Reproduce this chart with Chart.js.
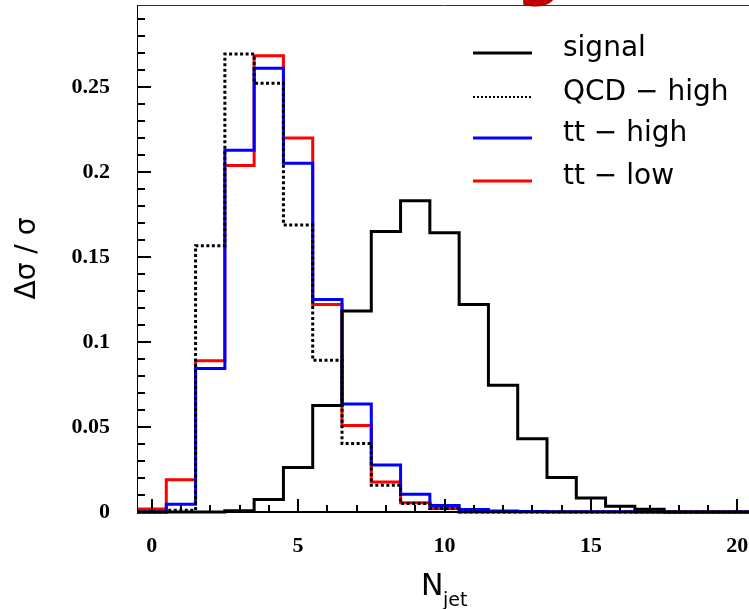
<!DOCTYPE html>
<html>
<head>
<meta charset="utf-8">
<script src="https://cdn.jsdelivr.net/npm/chart.js@4/dist/chart.umd.min.js"></script>
<style>
  html, body { margin: 0; padding: 0; background: #fff; overflow: hidden; }
  canvas { display: block; }
</style>
</head>
<body>
<canvas id="njetChart" width="752" height="609"></canvas>
<script>
// Njet distributions, one value per bin (bins centred on 0..20)
const binCenters = [0, 1, 2, 3, 4, 5, 6, 7, 8, 9, 10, 11, 12, 13, 14, 15, 16, 17, 18, 19, 20];
const signal  = [0, 0, 0, 0.0008, 0.0073, 0.0262, 0.0627, 0.1184, 0.1651, 0.1832, 0.1644, 0.1222, 0.0746, 0.0432, 0.0203, 0.0082, 0.0034, 0.0016, 0, 0, 0];
const qcdHigh = [0, 0.001, 0.1567, 0.2696, 0.2525, 0.169, 0.0894, 0.0403, 0.0157, 0.005, 0.002, 0, 0, 0, 0, 0, 0, 0, 0, 0, 0];
const ttHigh  = [0, 0.0045, 0.0845, 0.213, 0.2612, 0.2054, 0.1251, 0.0636, 0.0277, 0.0104, 0.0039, 0.0015, 0.0006, 0.0003, 0.0002, 0.0001, 0.0001, 0, 0, 0, 0];
const ttLow   = [0.0018, 0.019, 0.089, 0.204, 0.2686, 0.2202, 0.1222, 0.051, 0.0177, 0.0055, 0.002, 0, 0, 0, 0, 0, 0, 0, 0, 0, 0];

const seriesLabels = ['signal', 'QCD \u2212 high', 'tt \u2212 high', 'tt \u2212 low'];
const xTickValues = [0, 5, 10, 15, 20];
const xTickLabels = ['0', '5', '10', '15', '20'];
const yTickValues = [0, 0.05, 0.1, 0.15, 0.2, 0.25];
const yTickLabels = ['0', '0.05', '0.1', '0.15', '0.2', '0.25'];

// turn bin contents into step points (left edge of every bin + last right edge)
function toSteps(values) {
  const pts = binCenters.map((c, i) => ({ x: c - 0.5, y: values[i] }));
  pts.push({ x: binCenters[binCenters.length - 1] + 0.5, y: values[values.length - 1] });
  return pts;
}

// no extra room for overhanging labels, the frame is placed by hand
function noOverhang(s) {
  s.paddingLeft = 0;
  s.paddingRight = 0;
  s.paddingTop = 0;
  s.paddingBottom = 0;
}

const tickFont = { family: 'Liberation Serif', size: 22, weight: 'bold' };

// axis frame, inward ticks, legend and x title (ROOT style)
const rootStyle = {
  id: 'rootStyle',
  afterDraw(chart) {
    const ctx = chart.ctx;
    const area = chart.chartArea;
    const xs = chart.scales.x;
    const ys = chart.scales.y;
    ctx.save();

    // cropped title remnant at the top
    ctx.fillStyle = '#c00000';
    ctx.font = 'bold 64px "DejaVu Sans"';
    ctx.textAlign = 'center';
    ctx.textBaseline = 'alphabetic';
    ctx.fillText('g', 539, -7);

    // frame
    ctx.strokeStyle = '#333';
    ctx.lineWidth = 1;
    ctx.beginPath();
    ctx.moveTo(area.left, area.top + 0.5);
    ctx.lineTo(area.right, area.top + 0.5);
    ctx.stroke();

    ctx.strokeStyle = '#000';
    ctx.beginPath();
    ctx.moveTo(area.left + 0.5, area.top);
    ctx.lineTo(area.left + 0.5, area.bottom);
    ctx.stroke();

    ctx.lineWidth = 2;
    ctx.beginPath();
    ctx.moveTo(area.left, area.bottom);
    ctx.lineTo(area.right, area.bottom);
    ctx.stroke();

    // y ticks, minor every 0.01
    for (let k = 0; k <= 29; k++) {
      const py = Math.round(ys.getPixelForValue(k / 100));
      const len = k % 5 === 0 ? 14 : 8;
      ctx.beginPath();
      ctx.moveTo(area.left, py);
      ctx.lineTo(area.left + len, py);
      ctx.stroke();
    }
    // x ticks, minor every 1
    for (let k = 0; k <= 20; k++) {
      const px = Math.round(xs.getPixelForValue(k));
      const len = k % 5 === 0 ? 13 : 7;
      ctx.beginPath();
      ctx.moveTo(px, area.bottom);
      ctx.lineTo(px, area.bottom - len);
      ctx.stroke();
    }

    // x title  N_jet
    ctx.fillStyle = '#000';
    ctx.textAlign = 'left';
    ctx.textBaseline = 'alphabetic';
    ctx.font = '30px "DejaVu Sans"';
    ctx.fillText('N', 421, 595);
    ctx.font = '19px "DejaVu Sans"';
    ctx.fillText('jet', 443, 606);

    // legend
    const rows = [53, 97, 138, 181];
    ctx.font = '28px "DejaVu Sans"';
    chart.data.datasets.forEach((ds, i) => {
      const y = rows[i];
      ctx.strokeStyle = ds.borderColor;
      ctx.lineWidth = i === 1 ? 2 : 3;
      ctx.setLineDash(i === 1 ? [2, 2] : []);
      ctx.beginPath();
      ctx.moveTo(473, y);
      ctx.lineTo(532, y);
      ctx.stroke();
      ctx.setLineDash([]);
      ctx.fillStyle = '#000';
      ctx.fillText(ds.label, 563, y + 3);
    });

    ctx.restore();
  }
};

const commonDs = { stepped: true, pointRadius: 0, borderWidth: 3, fill: false, clip: false, tension: 0 };

new Chart(document.getElementById('njetChart'), {
  type: 'line',
  data: {
    datasets: [
      { ...commonDs, label: seriesLabels[0], data: toSteps(signal),  borderColor: '#000000' },
      { ...commonDs, label: seriesLabels[1], data: toSteps(qcdHigh), borderColor: '#000000', borderDash: [3, 2.5] },
      { ...commonDs, label: seriesLabels[2], data: toSteps(ttHigh),  borderColor: '#0000ff' },
      { ...commonDs, label: seriesLabels[3], data: toSteps(ttLow),   borderColor: '#ff0000' }
    ]
  },
  options: {
    responsive: false,
    animation: false,
    events: [],
    layout: { padding: { top: 5, left: 0, right: 0, bottom: 0 } },
    plugins: {
      legend: { display: false },
      tooltip: { enabled: false }
    },
    scales: {
      x: {
        type: 'linear',
        min: -0.5,
        max: 20.5,
        grid: { display: false, drawTicks: false },
        border: { display: false },
        afterBuildTicks: s => { s.ticks = xTickValues.map(v => ({ value: v })); },
        afterFit: s => { s.height = 97; noOverhang(s); },
        ticks: {
          font: tickFont,
          color: '#000',
          padding: 21,
          maxRotation: 0,
          autoSkip: false,
          callback: (v, i) => xTickLabels[i]
        }
      },
      y: {
        type: 'linear',
        min: 0,
        max: 0.2985,
        grid: { display: false, drawTicks: false },
        border: { display: false },
        afterBuildTicks: s => { s.ticks = yTickValues.map(v => ({ value: v })); },
        afterFit: s => { s.width = 137; noOverhang(s); },
        ticks: {
          font: tickFont,
          color: '#000',
          padding: 27,
          autoSkip: false,
          callback: (v, i) => yTickLabels[i]
        },
        title: {
          display: true,
          text: '\u0394\u03c3 / \u03c3',
          font: { family: 'DejaVu Sans', size: 28 },
          color: '#000',
          padding: { top: 11, bottom: 0 }
        }
      }
    }
  },
  plugins: [rootStyle]
});
</script>
</body>
</html>
